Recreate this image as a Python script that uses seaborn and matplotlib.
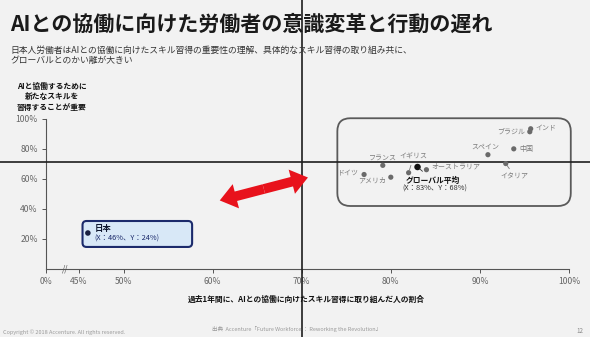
import matplotlib
matplotlib.use("Agg")
import matplotlib.pyplot as plt
import seaborn as sns
import pandas as pd
from matplotlib.patches import FancyBboxPatch, FancyArrowPatch, ArrowStyle

# ---- data ----
countries = ["ブラジル", "インド", "中国", "スペイン", "イタリア", "フランス",
             "イギリス", "オーストラリア", "アメリカ", "ドイツ"]
x_vals = [95.6, 95.7, 93.8, 90.9, 92.9, 79.1, 82.0, 84.0, 80.0, 77.0]
y_vals = [91.5, 93.5, 80.1, 76.2, 70.3, 69.1, 64.2, 66.2, 61.2, 63.0]
global_name = "グローバル平均"
global_x = [83.0]
global_y = [68.0]
japan_name = "日本"
japan_x = [46.0]
japan_y = [24.0]
x_ticks = [41.3, 45, 50, 60, 70, 80, 90, 100]
x_tick_labels = ["0%", "45%", "50%", "60%", "70%", "80%", "90%", "100%"]
y_ticks = [20, 40, 60, 80, 100]
y_tick_labels = ["20%", "40%", "60%", "80%", "100%"]

title = "AIとの協働に向けた労働者の意識変革と行動の遅れ"
subtitle = ("日本人労働者はAIとの協働に向けたスキル習得の重要性の理解、具体的なスキル習得の取り組み共に、\n"
            "グローバルとのかい離が大きい")
y_title = "AIと協働するために\n新たなスキルを\n習得することが重要"
x_title = "過去1年間に、AIとの協働に向けたスキル習得に取り組んだ人の割合"

sns.set_theme(style="white")
plt.rcParams["font.family"] = ["Noto Sans CJK JP", "DejaVu Sans"]

BG = "#f2f2f2"
fig = plt.figure(figsize=(5.9, 3.37), dpi=100, facecolor=BG)
ax = fig.add_axes([46 / 590, 68 / 337, 523 / 590, 150 / 337])
ax.set_facecolor("none")

df = pd.DataFrame({"country": countries, "x": x_vals, "y": y_vals})
sns.scatterplot(data=df, x="x", y="y", ax=ax, color="#6a6a6a", s=14,
                edgecolor="none", zorder=5)
sns.scatterplot(x=global_x, y=global_y, ax=ax, color="#111111", s=22,
                edgecolor="none", zorder=6)
sns.scatterplot(x=japan_x, y=japan_y, ax=ax, color="#1a2040", s=16,
                edgecolor="none", zorder=6)

ax.set_xlim(41.3, 100)
ax.set_ylim(0, 100)
ax.set_xticks(x_ticks)
ax.set_xticklabels(x_tick_labels)
ax.set_yticks(y_ticks)
ax.set_yticklabels(y_tick_labels)
ax.set_xlabel("")
ax.set_ylabel("")
for s in ["top", "right"]:
    ax.spines[s].set_visible(False)
for s in ["left", "bottom"]:
    ax.spines[s].set_color("#555555")
    ax.spines[s].set_linewidth(0.8)
ax.tick_params(axis="both", which="both", length=3, width=0.7, color="#555555",
               labelsize=6.2, labelcolor="#666666", pad=3)
ax.tick_params(axis="x", direction="out", bottom=True)
ax.tick_params(axis="y", direction="out", left=True)

# axis break mark
ax.text(43.5, 0, "//", ha="center", va="center", fontsize=6, color="#555555",
        clip_on=False)

# quadrant lines across the whole slide
ax.axvline(70, ymin=-0.5, ymax=1.9, color="#1e1e1e", lw=1.2, clip_on=False, zorder=3)
ax.axhline(71.5, xmin=-0.1, xmax=1.1, color="#1e1e1e", lw=1.2, clip_on=False, zorder=3)

# cluster box
aspect = (523 / 58.7) / 1.5
box = FancyBboxPatch((74.0, 42.0), 26.2, 58.5,
                     boxstyle="round,pad=0,rounding_size=1.45",
                     mutation_aspect=aspect, facecolor="none",
                     edgecolor="#5a5a5a", lw=1.3, clip_on=False, zorder=2)
ax.add_patch(box)

# Japan box
jbox = FancyBboxPatch((45.4, 14.7), 12.3, 17.3,
                      boxstyle="round,pad=0,rounding_size=0.45",
                      mutation_aspect=aspect, facecolor="#d8e8f7",
                      edgecolor="#1b2a6b", lw=1.5, clip_on=False, zorder=2)
ax.add_patch(jbox)
ax.text(46.8, 27.3, japan_name, fontsize=6, fontweight="bold", color="#101830",
        ha="left", va="center", zorder=7)
ax.text(46.7, 20.5, "(X：46%、Y：24%)", fontsize=5.3, color="#1b2a6b",
        ha="left", va="center", zorder=7)

# red double arrow
mid = ((60.8 + 70.7) / 2, (45.7 + 61.0) / 2)
style = ArrowStyle.Simple(head_length=12, head_width=18, tail_width=7)
for end in [(60.8, 45.7), (70.7, 61.0)]:
    ax.add_patch(FancyArrowPatch(mid, end, arrowstyle=style, mutation_scale=1,
                                 color="#e8121c", lw=0, shrinkA=0, shrinkB=0,
                                 clip_on=False, zorder=4))

# country labels: (dx px, dy px, ha)
lab_col = "#7a7a7a"
offsets = {
    "ブラジル": (-5, 0, "right"),
    "インド": (5, 0, "left"),
    "中国": (6, 0, "left"),
    "スペイン": (-3, 8, "center"),
    "フランス": (0, 8, "center"),
    "オーストラリア": (5, 3, "left"),
    "アメリカ": (-5, -3, "right"),
    "ドイツ": (-5, 1, "right"),
}
for c, x, y in zip(countries, x_vals, y_vals):
    if c in offsets:
        dx, dy, ha = offsets[c]
        ax.annotate(c, (x, y), xytext=(dx, dy), textcoords="offset pixels",
                    ha=ha, va="center", fontsize=5, color=lab_col, zorder=7)
    elif c == "イタリア":
        ax.annotate(c, (x, y), xytext=(9, -13), textcoords="offset pixels",
                    ha="center", va="center", fontsize=5, color=lab_col, zorder=7,
                    arrowprops=dict(arrowstyle="-", color="#777777", lw=0.6,
                                    shrinkA=0.5, shrinkB=1.5))
    elif c == "イギリス":
        ax.annotate(c, (x, y), xytext=(5, 16), textcoords="offset pixels",
                    ha="center", va="center", fontsize=5, color=lab_col, zorder=7,
                    arrowprops=dict(arrowstyle="-", color="#777777", lw=0.6,
                                    shrinkA=1, shrinkB=2))

ax.annotate(global_name, (global_x[0], global_y[0]), xytext=(15, -13),
            textcoords="offset pixels", ha="center", va="center", fontsize=5.6,
            fontweight="bold", color="#111111", zorder=7,
            arrowprops=dict(arrowstyle="-", color="#333333", lw=0.6,
                            shrinkA=1, shrinkB=2))
ax.annotate("(X：83%、Y：68%)", (global_x[0], global_y[0]), xytext=(17, -21.5),
            textcoords="offset pixels", ha="center", va="center", fontsize=5.3,
            color="#333333", zorder=7)

# slide texts
fig.text(10 / 590, 1 - 24.5 / 337, title, fontsize=15.1, fontweight="bold",
         color="#1a1a1a", ha="left", va="center")
fig.text(10 / 590, 1 - 46 / 337, subtitle, fontsize=6.35, color="#333333",
         ha="left", va="top", linespacing=1.1)
fig.text(52 / 590, 1 - 82 / 337, y_title, fontsize=5.6, fontweight="bold",
         color="#111111", ha="center", va="top", linespacing=1.2)
fig.text(306 / 590, 1 - 299 / 337, x_title, fontsize=5.6, fontweight="bold",
         color="#111111", ha="center", va="center")
fig.text(3 / 590, 1 - 332 / 337, "Copyright © 2018 Accenture. All rights reserved.",
         fontsize=4, color="#9a9a9a", ha="left", va="center")
fig.text(212 / 590, 1 - 329 / 337,
         "出典  Accenture「Future Workforce ： Reworking the Revolution」",
         fontsize=4, color="#9a9a9a", ha="left", va="center")
fig.text(580 / 590, 1 - 331 / 337, "12", fontsize=4.5, color="#888888",
         ha="center", va="center")

fig.savefig("out.png", dpi=100, facecolor=BG)
